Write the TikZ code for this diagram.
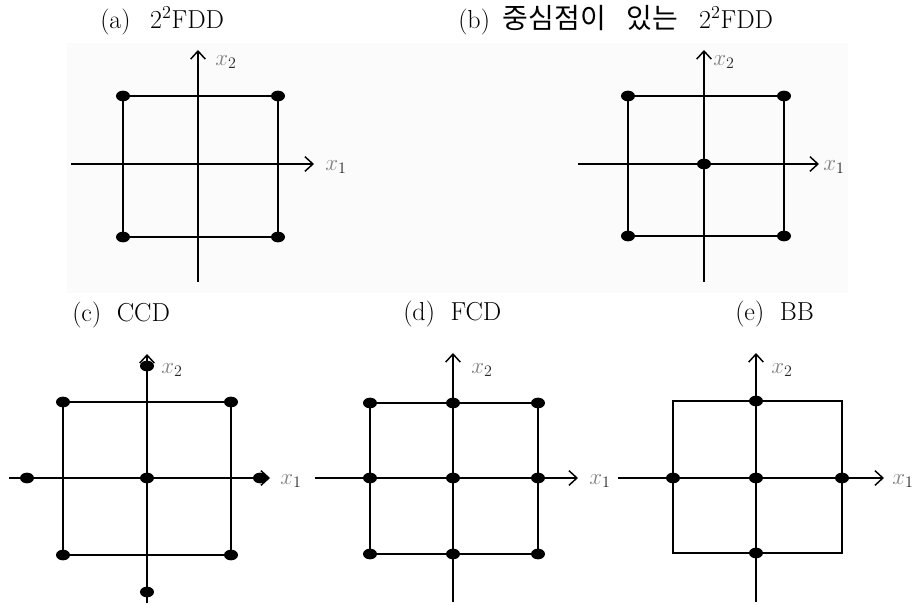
\documentclass[tikz,border=0pt]{standalone}
\usepackage{fontspec}
\newfontfamily\kr{Noto Sans CJK KR}
\usetikzlibrary{arrows.meta,shapes.geometric}
\newcommand{\xlab}[1]{${\color{black!50}x}_{#1}$}
\newcommand{\krt}[1]{{\kr\fontsize{21}{22}\selectfont #1}}
\begin{document}
\begin{tikzpicture}[x=0.75pt,y=-0.75pt,
 ln/.style={line width=1.1pt},
 axis/.style={line width=1.1pt,-{Straight Barb[length=6pt,width=11pt,line width=1.1pt]}},
 dot/.style={ellipse,fill=black,inner sep=0pt,minimum width=10.5pt,minimum height=8pt},
 ttl/.style={anchor=base west,inner sep=0pt,font=\fontsize{19.5}{22}\selectfont},
 lab/.style={anchor=west,inner sep=0pt,text=black!85,font=\fontsize{17}{20}\selectfont}]
\useasboundingbox (0,0) rectangle (916,605);
\fill[black!1.5] (67,43) rectangle (848,293);

% ---------- (a)
\node[ttl] (ta) at (100,29) {(a)\hspace{0.75em}2\textsuperscript{2}FDD};
\coordinate (a-l) at (71,164); \coordinate (a-r) at (314,164);
\coordinate (a-b) at (198,282); \coordinate (a-t) at (198,50);
\draw[axis] (a-l) -- (a-r);
\draw[axis] (a-b) -- (a-t);
\node[lab] (a-x1) at (325,167) {\xlab{1}};
\node[lab] (a-x2) at (215,62) {\xlab{2}};
\coordinate (a-sw) at (123,237); \coordinate (a-ne) at (278,96);
\draw[ln] (a-sw) rectangle (a-ne);
\node[dot] (a-d1) at (123,96) {};
\node[dot] (a-d2) at (278,96) {};
\node[dot] (a-d3) at (123,237) {};
\node[dot] (a-d4) at (278,237) {};

% ---------- (b)
\node[ttl] (tb) at (458,29) {(b)\hspace{0.5em}\krt{중심점이}\hspace{0.8em}\krt{있는}\hspace{0.8em}2\textsuperscript{2}FDD};
\coordinate (b-l) at (578,164); \coordinate (b-r) at (819,164);
\coordinate (b-b) at (704,282); \coordinate (b-t) at (704,50);
\draw[axis] (b-l) -- (b-r);
\draw[axis] (b-b) -- (b-t);
\node[lab] (b-x1) at (823,167) {\xlab{1}};
\node[lab] (b-x2) at (713,62) {\xlab{2}};
\coordinate (b-sw) at (628,236); \coordinate (b-ne) at (784,96);
\draw[ln] (b-sw) rectangle (b-ne);
\node[dot] (b-d1) at (628,96) {};
\node[dot] (b-d2) at (784,96) {};
\node[dot] (b-d3) at (628,236) {};
\node[dot] (b-d4) at (784,236) {};
\node[dot] (b-d0) at (704,164) {};

% ---------- (c)
\node[ttl] (tc) at (72,322) {(c)\hspace{0.6em}CCD};
\coordinate (c-l) at (9,478); \coordinate (c-r) at (270,478);
\coordinate (c-b) at (147,603); \coordinate (c-t) at (147,354);
\draw[axis] (c-l) -- (c-r);
\draw[axis] (c-b) -- (c-t);
\node[lab] (c-x1) at (280,481) {\xlab{1}};
\node[lab] (c-x2) at (161,370) {\xlab{2}};
\coordinate (c-sw) at (63,555); \coordinate (c-ne) at (231,402);
\draw[ln] (c-sw) rectangle (c-ne);
\node[dot] (c-d1) at (63,402) {};
\node[dot] (c-d2) at (231,402) {};
\node[dot] (c-d3) at (63,555) {};
\node[dot] (c-d4) at (231,555) {};
\node[dot] (c-d0) at (147,478) {};
\node[dot] (c-a1) at (147,366) {};
\node[dot] (c-a2) at (147,592) {};
\node[dot] (c-a3) at (27,478) {};
\node[dot] (c-a4) at (260,478) {};

% ---------- (d)
\node[ttl] (td) at (403,321) {(d)\hspace{0.6em}FCD};
\coordinate (d-l) at (315,478); \coordinate (d-r) at (578,478);
\coordinate (d-b) at (453,602); \coordinate (d-t) at (453,353);
\draw[axis] (d-l) -- (d-r);
\draw[axis] (d-b) -- (d-t);
\node[lab] (d-x1) at (589,481) {\xlab{1}};
\node[lab] (d-x2) at (471,370) {\xlab{2}};
\coordinate (d-sw) at (370,554); \coordinate (d-ne) at (538,403);
\draw[ln] (d-sw) rectangle (d-ne);
\foreach \i/\px in {1/370,2/453,3/538}{
  \foreach \j/\py in {1/403,2/478,3/554}{
    \node[dot] (d-\i\j) at (\px,\py) {};
  }
}

% ---------- (e)
\node[ttl] (te) at (735,321) {(e)\hspace{0.6em}BB};
\coordinate (e-l) at (618,478); \coordinate (e-r) at (884,478);
\coordinate (e-b) at (756,602); \coordinate (e-t) at (756,353);
\draw[axis] (e-l) -- (e-r);
\draw[axis] (e-b) -- (e-t);
\node[lab] (e-x1) at (892,481) {\xlab{1}};
\node[lab] (e-x2) at (771,370) {\xlab{2}};
\coordinate (e-sw) at (673,553); \coordinate (e-ne) at (842,401);
\draw[ln] (e-sw) rectangle (e-ne);
\node[dot] (e-d1) at (756,401) {};
\node[dot] (e-d2) at (756,553) {};
\node[dot] (e-d3) at (673,478) {};
\node[dot] (e-d4) at (842,478) {};
\node[dot] (e-d0) at (756,478) {};
\end{tikzpicture}
\end{document}
